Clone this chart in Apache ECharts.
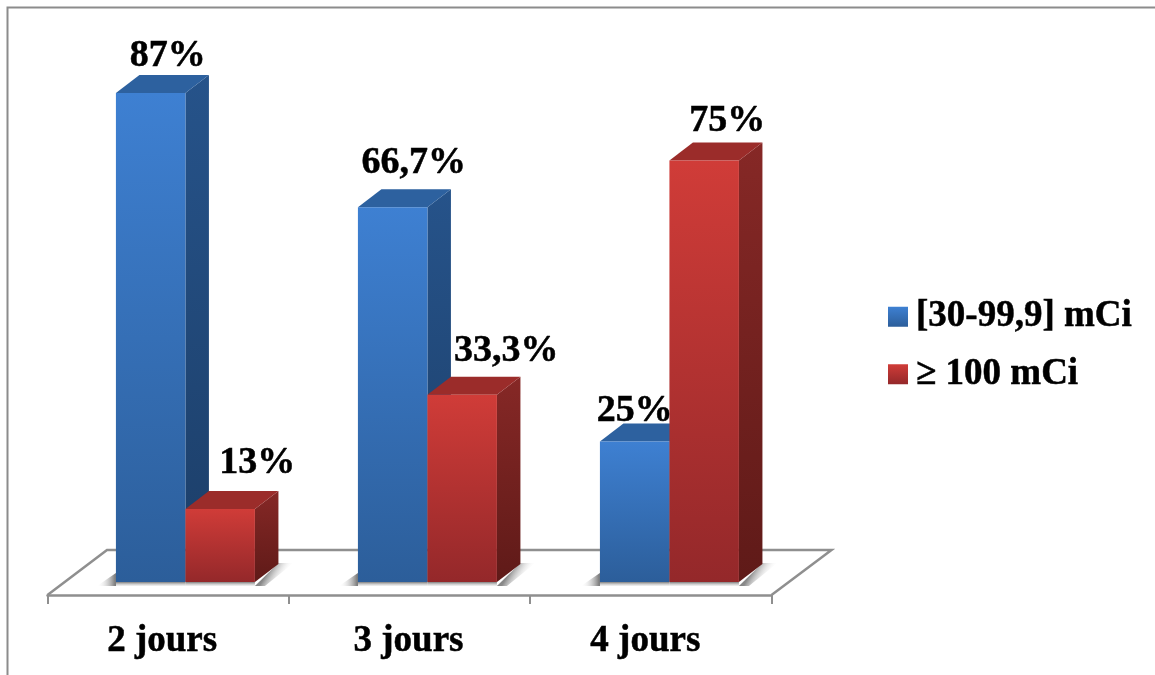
<!DOCTYPE html>
<html>
<head>
<meta charset="utf-8">
<title>Répartition par durée et activité</title>
<script src="https://cdn.jsdelivr.net/npm/echarts@6/dist/echarts.min.js"></script>
<style>
  html, body { margin: 0; padding: 0; background: #fff; }
  #chart { width: 1155px; height: 675px; }
</style>
</head>
<body>
<div id="chart"></div>
<script>
const categories = ['2 jours', '3 jours', '4 jours'];
const lowDoseName = '[30-99,9] mCi';
const highDoseName = '≥ 100 mCi';
const lowDoseValues = [87, 66.7, 25];
const highDoseValues = [13, 33.3, 75];

// Hand-placed offsets of the percentage labels, relative to each bar's top centre.
const lowLabelNudge = [[17, -37], [21, -44], [0, -30]];
const highLabelNudge = [[37, -46], [44, -44], [23, -39]];

const FONT = '"Liberation Serif", "Times New Roman", serif';
const LABEL_SIZE = 38;
const TEXT_SIZE = 37;
const DEPTH_X = 23.5;
const DEPTH_Y = -18;
const FLOOR_DROP = 13;
const BAND_DRIFT = 0.67;
const GREY = '#8f8f8f';

const vertical = (top, bottom) => ({
  type: 'linear', x: 0, y: 0, x2: 0, y2: 1,
  colorStops: [{ offset: 0, color: top }, { offset: 1, color: bottom }]
});
const fade = (x2, y2, stops) => ({
  type: 'linear', x: 0, y: 0, x2, y2,
  colorStops: stops.map(([offset, color]) => ({ offset, color }))
});

const palettes = {
  low: {
    front: vertical('#3e80d2', '#2c5e9a'),
    side: vertical('#26538a', '#1c3e68'),
    top: '#2d619f'
  },
  high: {
    front: vertical('#d03c38', '#94282a'),
    side: vertical('#862826', '#5f1a18'),
    top: '#9b2c2a'
  }
};

const percentText = v => String(v).replace('.', ',') + '%';

// One extruded bar: front, top and side faces plus its contact shadow and label.
function barRenderer(palette, startRatio, nudges, shadowOnRight) {
  return function (params, api) {
    const cat = api.value(0);
    const value = api.value(1);
    const band = api.size([1, 0])[0];
    const [cx, yTop] = api.coord([cat, value]);
    const yBase = api.coord([cat, 0])[1];
    const width = band * 0.288;
    const left = cx + band * startRatio + cat * BAND_DRIFT;
    const right = left + width;
    const children = [];

    children.push({
      type: 'rect',
      shape: { x: left, y: yBase, width: width, height: 4 },
      style: { fill: vertical('#7d7d7d', 'rgba(210,210,210,0.3)') }
    });
    if (shadowOnRight) {
      children.push({
        type: 'polygon',
        shape: { points: [[right, yBase + 4], [right + DEPTH_X, yBase + DEPTH_Y - 1], [right + DEPTH_X + 15, yBase + DEPTH_Y - 1], [right + 10, yBase + 4]] },
        style: { fill: fade(1, 1, [[0, '#6e6e6e'], [0.35, '#8a8a8a'], [0.75, 'rgba(255,255,255,0)'], [1, 'rgba(255,255,255,0)']]) }
      });
    } else {
      children.push({
        type: 'polygon',
        shape: { points: [[left - 19, yBase + 4], [left, yBase + 4], [left, yBase - 9]] },
        style: { fill: fade(1, 0, [[0, 'rgba(255,255,255,0)'], [1, '#707070']]) }
      });
    }
    children.push({
      type: 'polygon',
      shape: { points: [[right, yTop], [right + DEPTH_X, yTop + DEPTH_Y], [right + DEPTH_X, yBase + DEPTH_Y], [right, yBase]] },
      style: { fill: palette.side }
    });
    children.push({
      type: 'polygon',
      shape: { points: [[left, yTop], [left + DEPTH_X, yTop + DEPTH_Y], [right + DEPTH_X, yTop + DEPTH_Y], [right, yTop]] },
      style: { fill: palette.top }
    });
    children.push({
      type: 'rect',
      shape: { x: left, y: yTop, width: width, height: yBase - yTop },
      style: { fill: palette.front }
    });
    const nudge = nudges[params.dataIndex];
    children.push({
      type: 'text',
      z2: 100,
      style: {
        text: percentText(value),
        x: left + width / 2 + nudge[0],
        y: yTop + nudge[1],
        align: 'center',
        verticalAlign: 'middle',
        fill: '#000',
        stroke: '#000',
        lineWidth: 0.5,
        font: 'bold ' + LABEL_SIZE + 'px ' + FONT
      }
    });
    return { type: 'group', children: children };
  };
}

// Floor plane behind the bars: back edge and the two receding side edges.
function renderFloor(params) {
  const box = params.coordSys;
  const yFront = box.y + box.height + FLOOR_DROP;
  const yBack = yFront - 45;
  const xLeft = box.x;
  const xRight = box.x + box.width;
  return {
    type: 'polyline',
    shape: { points: [[xLeft, yFront], [xLeft + 59.5, yBack], [xRight + 60, yBack], [xRight, yFront]] },
    style: { stroke: GREY, lineWidth: 2.5, fill: 'none' }
  };
}

const toPairs = values => values.map((v, i) => [i, v]);

const chart = echarts.init(document.getElementById('chart'), null, { renderer: 'canvas' });
chart.setOption({
  animation: false,
  backgroundColor: '#fff',
  grid: { left: 47.5, width: 724, top: 20, bottom: 93 },
  xAxis: {
    type: 'category',
    data: [
      { value: categories[0], textStyle: { padding: [0, 12, 0, 0] } },
      { value: categories[1], textStyle: { padding: [0, 2, 0, 0] } },
      { value: categories[2], textStyle: { padding: [0, 11, 0, 0] } }
    ],
    offset: FLOOR_DROP,
    axisLine: { show: true, onZero: false, lineStyle: { color: GREY, width: 2.5 } },
    axisTick: { show: true, length: 9, alignWithLabel: false, lineStyle: { color: GREY, width: 2 } },
    axisLabel: {
      margin: 28,
      interval: 0,
      color: '#000',
      fontFamily: FONT,
      fontWeight: 'bold',
      fontSize: TEXT_SIZE,
      textBorderColor: '#000',
      textBorderWidth: 0.5
    },
    splitLine: { show: false }
  },
  yAxis: { type: 'value', min: 0, max: 100, show: false },
  legend: {
    orient: 'vertical',
    left: 883,
    top: 293,
    itemGap: 20,
    itemWidth: 20,
    itemHeight: 20,
    selectedMode: false,
    textStyle: {
      color: '#000', fontFamily: FONT, fontWeight: 'bold', fontSize: TEXT_SIZE,
      padding: [0, 0, 0, 3], textBorderColor: '#000', textBorderWidth: 0.5
    },
    data: [
      { name: lowDoseName, icon: 'rect', itemStyle: { color: palettes.low.front } },
      { name: highDoseName, icon: 'rect', itemStyle: { color: palettes.high.front } }
    ]
  },
  graphic: {
    elements: [{
      type: 'polyline',
      silent: true,
      shape: { points: [[7.5, 675], [7.5, 7.5], [1155, 7.5]] },
      style: { stroke: '#8c8c8c', lineWidth: 2, fill: 'none' }
    }]
  },
  series: [
    {
      type: 'custom',
      name: 'floor',
      silent: true,
      clip: false,
      z: 1,
      data: [[0, 0]],
      renderItem: renderFloor
    },
    {
      type: 'custom',
      name: lowDoseName,
      clip: false,
      z: 2,
      encode: { x: 0, y: 1 },
      data: toPairs(lowDoseValues),
      renderItem: barRenderer(palettes.low, -0.2165, lowLabelNudge, false)
    },
    {
      type: 'custom',
      name: highDoseName,
      clip: false,
      z: 3,
      encode: { x: 0, y: 1 },
      data: toPairs(highDoseValues),
      renderItem: barRenderer(palettes.high, 0.0715, highLabelNudge, true)
    }
  ]
});
</script>
</body>
</html>
